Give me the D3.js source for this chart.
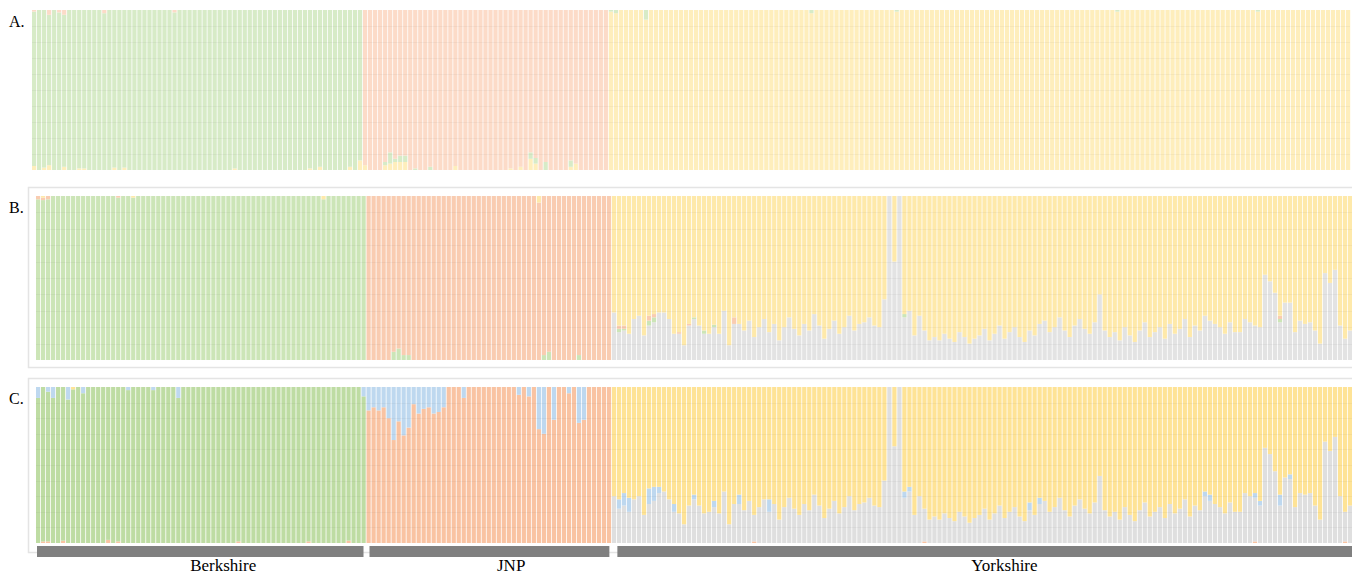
<!DOCTYPE html>
<html><head><meta charset="utf-8">
<script src="https://cdn.jsdelivr.net/npm/d3@7"></script>
<style>
body{margin:0;background:#fff}
svg{display:block}
text{font-family:"Liberation Serif","Times New Roman",serif;fill:#000}
</style>
</head><body>
<svg id="chart" width="1352" height="575"></svg>
<script>
// ---------------- DATA ----------------
const groups = ["Berkshire", "JNP", "Yorkshire"];
const groupSizes = [66, 49, 148];
const panelLabels = ["A.", "B.", "C."];

// Panel A (K=3): sparse minor memberships [index, percent]
const aBerkYellow = [[0,2.5],[2,1.5],[3,3],[6,2],[9,1],[10,1],[16,1.5],[18,1.5],[40,1],[55,1],[57,2],[63,2],[65,6]];
const aBerkOrange = [[0,1],[3,3],[5,1.5],[6,3],[14,2],[28,1.5]];
const aJnpYellow = [[0,3],[4,3],[5,4],[6,5],[7,5],[8,5],[18,2.5],[29,1],[31,2],[33,7],[34,4],[41,2],[42,4]];
const aJnpGreen = [[4,2],[5,7],[6,2],[7,4],[8,4],[10,1],[13,2],[33,4],[34,3.5],[36,5],[41,4]];
const aYorkGreen = [[0,1],[1,2],[7,6],[40,2],[57,1],[101,1],[129,1]];

// Panel B (K=4)
const bBerkOrange = [[0,2],[1,1.5],[2,2],[16,1]];
const bBerkYellow = [[1,1],[19,1],[57,2]];
const bJnpGreen = [[5,5],[6,7],[7,3],[8,3],[35,3],[36,5],[42,3]];
const bJnpYellow = [[34,4]];
const bYorkGray = [
  29,17,18,16,25,27,15,21,23,29,
  29,25,16,16,9,21,25,21,16,16,
  20,16,30,9,22,22,18,24,14,20,
  25,17,22,12,20,26,19,15,22,18,
  28,21,13,19,24,16,20,27,18,22,
  23,26,21,20,37,100,60,100,26,30,
  15,27,18,12,14,12,16,13,11,17,
  14,10,13,15,19,12,16,21,13,17,
  20,14,11,18,15,22,24,17,20,26,
  18,14,21,25,19,16,23,40,18,14,
  17,12,20,15,11,18,23,14,17,20,
  13,22,16,19,25,14,21,18,27,24,
  22,20,16,23,17,17,25,23,21,20,
  52,48,41,23,35,35,17,24,22,23,
  18,10,53,47,55,21,13,18
];
const bYorkGreen = [[1,2],[2,1],[7,3],[8,3],[16,1],[18,2],[20,1.5],[58,2],[133,2]];
const bYorkOrange = [[1,2],[2,2],[7,3],[8,2],[13,1],[15,1],[24,4],[133,2]];

// Panel C (K=5)
const cBerkBlue = [[0,7],[2,3],[3,7],[6,8],[9,4],[18,2],[23,2],[28,7],[65,6]];
const cBerkYellow = [[7,1.5]];
const cBerkOrange = [[1,1],[2,1],[5,1.5],[14,2],[16,1],[40,1],[54,1],[62,1.5]];
const cJnpBlue = [
  15,13,15,13,20,34,22,31,26,11,
  17,14,13,17,16,13,0,0,0,7,
  0,0,0,0,0,0,0,0,0,0,
  5,0,6,0,27,30,0,21,0,0,
  4,0,23,21,0,0,0,0,0
];
const cYorkGray = [
  30,22,24,20,28,30,18,25,27,32,
  33,28,20,19,12,24,28,24,19,20,
  23,19,33,12,25,25,21,27,17,23,
  28,20,25,15,23,29,22,18,25,21,
  31,24,16,22,27,19,23,30,21,25,
  26,29,24,23,40,100,62,100,29,33,
  18,30,21,15,17,15,19,16,14,20,
  17,13,16,18,22,15,19,24,16,20,
  23,17,14,21,18,25,27,20,23,29,
  21,17,24,28,22,19,26,43,21,17,
  20,15,23,18,14,21,26,17,20,23,
  16,25,19,22,28,17,24,21,30,27,
  25,23,19,26,20,20,32,30,28,24,
  61,57,46,24,42,41,23,32,31,32,
  24,15,65,59,68,30,19,24
];
const cYorkBlue = [[1,6],[2,8],[3,9],[7,10],[8,9],[9,4],[12,5],[16,3],[20,4],[25,6],[31,8],[58,4],[59,3],[83,5],[85,4],[118,3],[119,4],[128,3],[129,3],[133,7],[135,3]];
const cYorkOrange = [[28,1],[62,1],[128,1],[146,1]];

// ---------------- BUILD ----------------
function dense(n, pairs) { const a = new Array(n).fill(0); pairs.forEach(([i, v]) => a[i] = v); return a; }

function makeRows(order, groupComps) {
  const rows = [];
  let id = 0;
  groupComps.forEach((gc, g) => {
    for (let k = 0; k < groupSizes[g]; k++) {
      const r = { id: id++, group: g };
      let s = 0, rest = null;
      order.forEach(c => {
        const v = gc[c];
        if (v === "rest") { rest = c; r[c] = 0; }
        else if (v) { r[c] = v[k] || 0; s += r[c]; }
        else r[c] = 0;
      });
      r[rest] = Math.max(0, 100 - s);
      rows.push(r);
    }
  });
  return rows;
}
const [nB, nJ, nY] = groupSizes;

const panels = [
  { label: panelLabels[0], top: 10, bottom: 170, x0: 32, x1: 1350, frame: null,
    order: ["yellow", "green", "orange"],
    colors: { yellow: "#feeebc", green: "#d7ebc7", orange: "#fcdbc8" },
    comps: [
      { yellow: dense(nB, aBerkYellow), green: "rest", orange: dense(nB, aBerkOrange) },
      { yellow: dense(nJ, aJnpYellow), green: dense(nJ, aJnpGreen), orange: "rest" },
      { yellow: "rest", green: dense(nY, aYorkGreen) }
    ] },
  { label: panelLabels[1], top: 196, bottom: 360, x0: 36, x1: 1352, frame: [187.5, 367.5],
    order: ["gray", "green", "orange", "yellow"],
    colors: { gray: "#e3e3e3", green: "#cce5b7", orange: "#f9ccb1", yellow: "#fee9aa" },
    comps: [
      { green: "rest", orange: dense(nB, bBerkOrange), yellow: dense(nB, bBerkYellow) },
      { green: dense(nJ, bJnpGreen), orange: "rest", yellow: dense(nJ, bJnpYellow) },
      { gray: bYorkGray, green: dense(nY, bYorkGreen), orange: dense(nY, bYorkOrange), yellow: "rest" }
    ] },
  { label: panelLabels[2], top: 387, bottom: 543, x0: 36, x1: 1352, frame: [378.5, 552.5],
    order: ["orange", "gray", "green", "blue", "yellow"],
    colors: { orange: "#f9c3a2", gray: "#dfdfdf", green: "#bedca3", blue: "#bed8ef", yellow: "#fee396" },
    comps: [
      { orange: dense(nB, cBerkOrange), green: "rest", blue: dense(nB, cBerkBlue), yellow: dense(nB, cBerkYellow) },
      { orange: "rest", blue: cJnpBlue },
      { orange: dense(nY, cYorkOrange), gray: cYorkGray, blue: dense(nY, cYorkBlue), yellow: "rest" }
    ] }
];

// ---------------- DRAW ----------------
const svg = d3.select("#chart");
const N = d3.sum(groupSizes);
const ids = d3.range(N);

panels.forEach(p => {
  const g = svg.append("g");
  if (p.frame) {
    g.append("rect").attr("x", 28.5).attr("y", p.frame[0])
      .attr("width", 1400).attr("height", p.frame[1] - p.frame[0])
      .attr("fill", "#fff").attr("stroke", "#e4e4e4").attr("stroke-width", 1.5);
  }
  const x = d3.scaleBand().domain(ids).range([p.x0, p.x1]).paddingInner(0.2).paddingOuter(0);
  const y = d3.scaleLinear().domain([0, 100]).range([p.bottom, p.top]);
  const rows = makeRows(p.order, p.comps);
  const series = d3.stack().keys(p.order)(rows);
  g.selectAll("g.s").data(series).join("g").attr("class", "s")
    .attr("fill", d => p.colors[d.key])
    .selectAll("rect").data(d => d.filter(s => s[1] - s[0] > 0)).join("rect")
    .attr("x", d => x(d.data.id))
    .attr("width", x.bandwidth() + 0.2)
    .attr("y", d => y(Math.min(100, d[1])))
    .attr("height", d => Math.max(0, y(d[0]) - y(Math.min(100, d[1]))));
  // faint gridlines
  g.selectAll("line.grid").data(d3.range(10, 100, 10)).join("line").attr("class", "grid")
    .attr("x1", p.x0).attr("x2", p.x1)
    .attr("y1", d => Math.round(y(d)) + 0.5).attr("y2", d => Math.round(y(d)) + 0.5)
    .attr("stroke", "#000").attr("stroke-opacity", 0.035);
  g.append("text").attr("x", 9).attr("y", p.top + 17).attr("font-size", 16).text(p.label);
  p.xScale = x;
});

// group bars and labels (using the panel C scale)
const xc = panels[2].xScale;
let start = 0;
const groupSpans = groupSizes.map(n => { const s = start; start += n; return [s, start - 1]; });
const insetL = [1, 3, 5.5], insetR = [3, 2.5, 0];
svg.selectAll("rect.grp").data(groupSpans).join("rect").attr("class", "grp")
  .attr("x", (d, i) => xc(d[0]) + insetL[i])
  .attr("width", (d, i) => xc(d[1]) + xc.step() - xc(d[0]) - insetL[i] - insetR[i])
  .attr("y", 546).attr("height", 11).attr("fill", "#808080");
svg.selectAll("text.grp").data(groupSpans).join("text").attr("class", "grp")
  .attr("x", d => (xc(d[0]) + xc(d[1]) + xc.step()) / 2 + 22)
  .attr("y", 571).attr("text-anchor", "middle").attr("font-size", 17)
  .text((d, i) => groups[i]);
</script>
</body></html>
